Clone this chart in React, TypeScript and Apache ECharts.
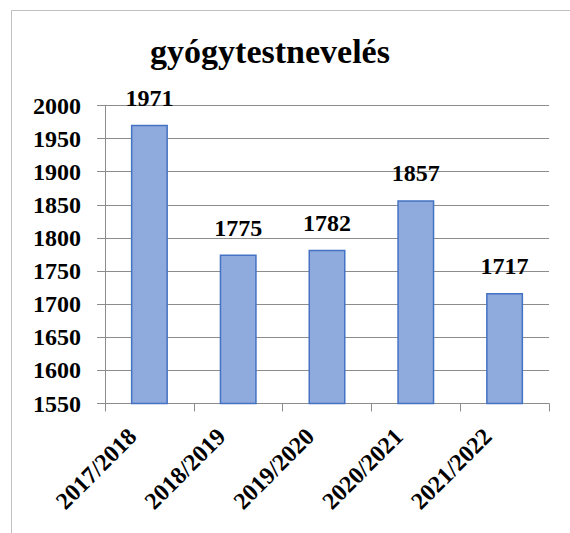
import React, { useEffect, useRef } from "react";
import * as echarts from "echarts";

const categories = ["2017/2018", "2018/2019", "2019/2020", "2020/2021", "2021/2022"];
const values = [1971, 1775, 1782, 1857, 1717];
const titleText = "gyógytestnevelés";
const yMin = 1550;
const yMax = 2000;
const yInterval = 50;

const FONT = "'Times New Roman', 'Liberation Serif', serif";
const GRID_COLOR = "#8c8c8c";

export default function App() {
  const ref = useRef<HTMLDivElement>(null);
  useEffect(() => {
    if (!ref.current) return;
    const chart = echarts.init(ref.current, undefined, { renderer: "svg" });
    chart.setOption({
      animation: false,
      backgroundColor: "#ffffff",
      textStyle: { fontFamily: FONT },
      graphic: [
        {
          type: "rect",
          shape: { x: 11.5, y: 10.5, width: 700, height: 700 },
          style: { fill: "none", stroke: "#c0c0c0", lineWidth: 1 },
          silent: true,
        },
        {
          type: "text",
          x: 270,
          y: 51,
          style: {
            text: titleText,
            fontFamily: FONT,
            fontWeight: "bold",
            fontSize: 34,
            fill: "#000",
            textAlign: "center",
            textVerticalAlign: "middle",
          },
        },
      ],
      grid: { left: 105, right: 21, top: 105.5, bottom: 129.5 },
      xAxis: {
        type: "category",
        data: categories,
        boundaryGap: true,
        axisLine: { show: true, lineStyle: { color: GRID_COLOR, width: 1 } },
        axisTick: { show: true, length: 8, alignWithLabel: false, lineStyle: { color: GRID_COLOR } },
        axisLabel: {
          rotate: 45,
          margin: 12,
          interval: 0,
          color: "#000",
          fontFamily: FONT,
          fontWeight: "bold",
          fontSize: 24,
          padding: [0, 24, 0, 0],
        },
        splitLine: { show: false },
      },
      yAxis: {
        type: "value",
        min: yMin,
        max: yMax,
        interval: yInterval,
        axisLine: { show: true, lineStyle: { color: GRID_COLOR, width: 1 } },
        axisTick: { show: true, length: 8, lineStyle: { color: GRID_COLOR } },
        axisLabel: {
          margin: 24,
          color: "#000",
          fontFamily: FONT,
          fontWeight: "bold",
          fontSize: 24,
          formatter: (v: number) => String(v),
        },
        splitLine: { show: true, lineStyle: { color: GRID_COLOR, width: 1 } },
      },
      series: [
        {
          type: "bar",
          data: values,
          barWidth: 37,
          itemStyle: { color: "#8faadc", borderColor: "#4472c4", borderWidth: 1.5 },
          label: {
            show: true,
            position: "top",
            distance: 15,
            color: "#000",
            fontFamily: FONT,
            fontWeight: "bold",
            fontSize: 24,
          },
        },
      ],
    });
    return () => chart.dispose();
  }, []);
  return (
    <div
      ref={ref}
      style={{ position: "fixed", left: 0, top: 0, width: 570, height: 533 }}
    />
  );
}
